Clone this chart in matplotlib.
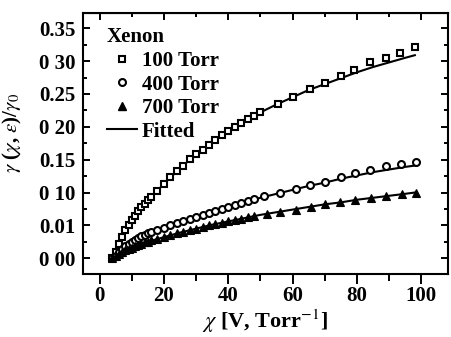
import numpy as np
import matplotlib
matplotlib.use("Agg")
import matplotlib.pyplot as plt
from matplotlib.lines import Line2D

plt.rcParams["font.family"] = ["Liberation Serif", "DejaVu Serif"]
plt.rcParams["mathtext.fontset"] = "stix"

# 100 Torr
x100 = [4, 5, 6, 7, 8, 9, 10, 11, 12, 13, 14, 15, 16, 18, 20, 22, 24, 26, 28, 30,
        32, 34, 36, 38, 40, 42, 44, 46, 48, 50, 55.5, 60, 65.5, 70, 75, 79, 84, 89, 93.5, 98]
y100 = [0.0, 0.010, 0.022, 0.033, 0.043, 0.051, 0.058, 0.065, 0.072, 0.078, 0.083, 0.088,
        0.093, 0.103, 0.113, 0.123, 0.132, 0.141, 0.151, 0.158, 0.165, 0.172, 0.180, 0.187,
        0.193, 0.200, 0.206, 0.212, 0.217, 0.222, 0.234, 0.246, 0.258, 0.267, 0.278, 0.287,
        0.298, 0.304, 0.312, 0.321]

# 400 Torr
x400 = [4, 5, 6, 7, 8, 9, 10, 11, 12, 13, 14, 15, 16, 18, 20, 22, 24, 26, 28, 30,
        32, 34, 36, 38, 40, 42, 44, 46, 48, 51, 56, 61, 65.5, 70, 75, 79.5, 84, 89, 93.8, 98.4]
y400 = [0.0, 0.004, 0.009, 0.014, 0.018, 0.022, 0.025, 0.028, 0.031, 0.034, 0.036, 0.038,
        0.040, 0.043, 0.046, 0.050, 0.053, 0.056, 0.060, 0.063, 0.066, 0.069, 0.072, 0.075,
        0.078, 0.081, 0.084, 0.087, 0.090, 0.094, 0.099, 0.105, 0.112, 0.116, 0.123, 0.129,
        0.134, 0.141, 0.143, 0.146]

# 700 Torr
x700 = [4, 5, 6, 7, 8, 9, 10, 11, 12, 13, 14, 15, 16, 18, 20, 22, 24, 26, 28, 30,
        32, 34, 36, 38, 40, 42, 44, 46, 48, 51.9, 56.2, 61, 65.8, 70.2, 74.8, 79.5, 84.5, 89, 94, 98.4]
y700 = [0.0, 0.003, 0.006, 0.009, 0.012, 0.014, 0.016, 0.018, 0.020, 0.022, 0.024, 0.025,
        0.027, 0.029, 0.032, 0.035, 0.038, 0.040, 0.043, 0.045, 0.048, 0.050, 0.052, 0.054,
        0.056, 0.058, 0.060, 0.062, 0.064, 0.067, 0.070, 0.074, 0.078, 0.082, 0.086, 0.089,
        0.092, 0.095, 0.098, 0.100]

# fitted curves
xfit = [4, 5, 6, 8, 10, 12, 15, 20, 25, 30, 35, 40, 45, 50, 55, 60, 65, 70, 75, 80, 85, 90, 95, 98]
yfit100 = [0.0, 0.011, 0.022, 0.042, 0.058, 0.071, 0.088, 0.113, 0.137, 0.158, 0.176, 0.193,
           0.209, 0.222, 0.234, 0.245, 0.256, 0.265, 0.274, 0.283, 0.291, 0.298, 0.305, 0.309]
yfit400 = [0.0, 0.005, 0.009, 0.018, 0.025, 0.031, 0.038, 0.047, 0.055, 0.063, 0.070, 0.078,
           0.085, 0.092, 0.098, 0.104, 0.110, 0.115, 0.121, 0.126, 0.131, 0.135, 0.139, 0.141]
yfit700 = [0.0, 0.003, 0.006, 0.012, 0.016, 0.020, 0.025, 0.032, 0.039, 0.045, 0.051, 0.056,
           0.061, 0.066, 0.070, 0.074, 0.078, 0.082, 0.085, 0.089, 0.092, 0.095, 0.098, 0.100]

yticks = [0.0, 0.05, 0.10, 0.15, 0.20, 0.25, 0.30, 0.35]
ytick_labels = ["0 00", "0.01", "0 10", "0.15", "0 20", "0.25", "0 30", "0.35"]
xticks = [0, 20, 40, 60, 80, 100]
xminor = [10, 30, 50, 70, 90]
yminor = [0.025, 0.075, 0.125, 0.175, 0.225, 0.275, 0.325]

FS = 15

fig = plt.figure(figsize=(4.51, 3.37), dpi=100)
ax = fig.add_axes([0.183, 0.187, 0.811, 0.774])

ax.plot(xfit, yfit100, color="black", lw=1.5)
ax.plot(xfit, yfit400, color="black", lw=1.5)
ax.plot(xfit, yfit700, color="black", lw=1.5)
ax.plot(x100, y100, ls="none", marker="s", ms=5, mfc="white", mec="black", mew=1.5)
ax.plot(x400, y400, ls="none", marker="o", ms=5, mfc="white", mec="black", mew=1.5)
ax.plot(x700, y700, ls="none", marker="^", ms=6, mfc="black", mec="black", mew=0.8)

ax.set_xlim(-5.3, 108.4)
ax.set_ylim(-0.024, 0.373)
ax.set_xticks(xticks)
ax.set_xticks(xminor, minor=True)
ax.set_yticks(yticks)
ax.set_yticklabels(ytick_labels)
ax.set_yticks(yminor, minor=True)

ax.tick_params(axis="x", which="both", direction="out", top=False, labelsize=FS, width=1.4, pad=2)
ax.tick_params(axis="x", which="major", length=7)
ax.tick_params(axis="x", which="minor", length=5)
ax.tick_params(axis="y", which="both", direction="in", right=True, labelsize=FS, width=1.4, pad=5)
ax.tick_params(axis="y", which="major", length=5)
ax.tick_params(axis="y", which="minor", length=3)
for lab in ax.get_xticklabels() + ax.get_yticklabels():
    lab.set_fontweight("bold")

# top axis inward ticks
top = ax.secondary_xaxis("top")
top.set_xticks(xticks)
top.set_xticks(xminor, minor=True)
top.tick_params(which="both", direction="in", labeltop=False, width=1.4)
top.tick_params(which="major", length=5)
top.tick_params(which="minor", length=3)

for s in ax.spines.values():
    s.set_linewidth(1.5)

ax.set_xlabel(r"$\chi$ [V, Torr$^{-1}$]", fontsize=16, fontweight="bold", labelpad=1)
ax.set_ylabel(r"$\gamma$ ($\chi$, $\epsilon$)/$\gamma_0$", fontsize=FS, fontweight="bold")
ax.yaxis.set_label_coords(-0.16, 0.54)

handles = [
    Line2D([], [], ls="none", marker="s", ms=5, mfc="white", mec="black", mew=1.5),
    Line2D([], [], ls="none", marker="o", ms=5, mfc="white", mec="black", mew=1.5),
    Line2D([], [], ls="none", marker="^", ms=6, mfc="black", mec="black"),
    Line2D([], [], color="black", lw=1.5),
]
leg = ax.legend(handles, ["100 Torr", "400 Torr", "700 Torr", "Fitted"],
                title="Xenon", loc="upper left", bbox_to_anchor=(0.066, 0.945),
                frameon=False, fontsize=FS, title_fontsize=FS,
                handlelength=1.45, handletextpad=0.25, labelspacing=0.17,
                borderaxespad=0.0, borderpad=0.0, alignment="left")
for t in leg.get_texts():
    t.set_fontweight("bold")
leg.get_title().set_fontweight("bold")

fig.savefig("out.png", dpi=100)
